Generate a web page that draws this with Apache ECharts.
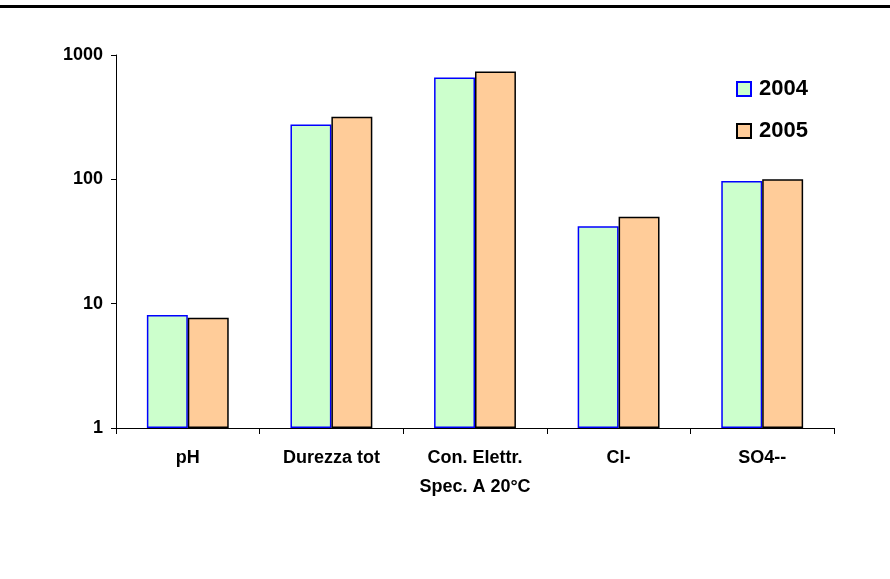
<!DOCTYPE html>
<html lang="it">
<head>
    <meta charset="UTF-8">
    <title>Parametri 2004 - 2005</title>
    <script src="https://cdn.jsdelivr.net/npm/echarts@6/dist/echarts.min.js"></script>
    <style>
        html, body { margin: 0; padding: 0; background: #fff; }
        #charts { width: 890px; height: 579px; }
    </style>
</head>
<body>
<div id="charts"></div>
<script>
    // dati
    var categories = ['pH', 'Durezza tot', 'Con. Elettr.\nSpec. A 20°C', 'Cl-', 'SO4--'];
    var anni = ['2004', '2005'];
    var valori2004 = [8.1, 276, 660, 42, 97];
    var valori2005 = [7.7, 318, 738, 50, 100];

    var font = 'Liberation Sans, Arial, sans-serif';

    var option = {
        backgroundColor: '#fff',
        animation: false,
        graphic: [{
            type: 'rect',
            shape: { x: 0, y: 5, width: 890, height: 3 },
            style: { fill: '#000' }
        }],
        grid: {
            left: 116,
            right: 56,
            top: 55,
            bottom: 151
        },
        legend: {
            orient: 'vertical',
            left: 736,
            top: 78,
            padding: 0,
            itemWidth: 14,
            itemHeight: 14,
            itemGap: 20,
            icon: 'rect',
            data: anni,
            textStyle: {
                fontFamily: font,
                fontWeight: 'bold',
                fontSize: 22,
                color: '#000',
                padding: [0, 0, 0, 3]
            }
        },
        xAxis: {
            type: 'category',
            data: categories,
            axisLine: { lineStyle: { color: '#000', width: 1 } },
            axisTick: { show: true, interval: 0, length: 6, lineStyle: { color: '#000' } },
            axisLabel: {
                interval: 0,
                margin: 16,
                fontFamily: font,
                fontWeight: 'bold',
                fontSize: 18,
                color: '#000',
                lineHeight: 29
            },
            splitLine: { show: false }
        },
        yAxis: {
            type: 'log',
            logBase: 10,
            min: 1,
            max: 1000,
            axisLine: { show: true, lineStyle: { color: '#000', width: 1 } },
            axisTick: { show: true, length: 5, lineStyle: { color: '#000' } },
            axisLabel: {
                margin: 13,
                fontFamily: font,
                fontWeight: 'bold',
                fontSize: 18,
                color: '#000',
                formatter: function (v) {
                    return String(Math.round(v));
                }
            },
            splitLine: { show: false }
        },
        series: [
            {
                name: '2004',
                type: 'bar',
                data: valori2004,
                barGap: 0,
                barCategoryGap: '43%',
                itemStyle: {
                    color: '#CCFFCC',
                    borderColor: '#0000FF',
                    borderWidth: 1.5
                }
            },
            {
                name: '2005',
                type: 'bar',
                data: valori2005,
                barGap: 0,
                barCategoryGap: '43%',
                itemStyle: {
                    color: '#FFCC99',
                    borderColor: '#000',
                    borderWidth: 1.5
                }
            }
        ]
    };

    var myChart = echarts.init(document.getElementById('charts'));
    myChart.setOption(option);
</script>
</body>
</html>
